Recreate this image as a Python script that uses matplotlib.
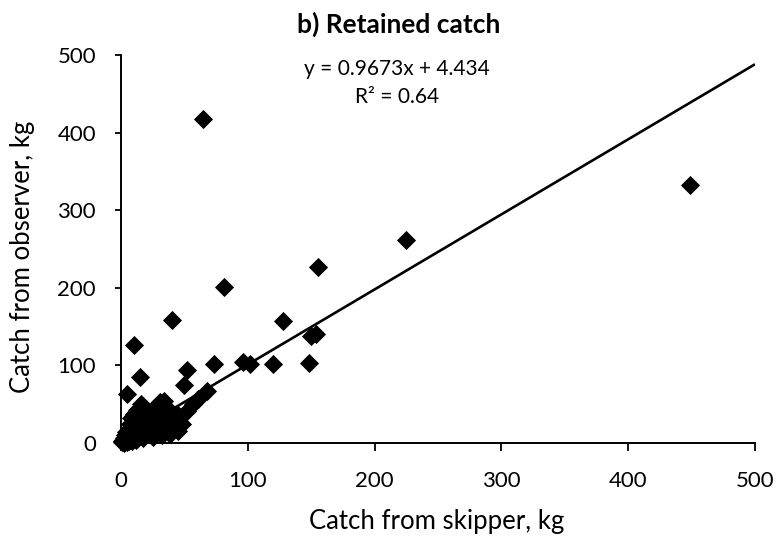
import matplotlib
matplotlib.use("Agg")
import matplotlib.pyplot as plt
import numpy as np

plt.rcParams['font.family'] = ['Lato', 'DejaVu Sans']

skipper = [449, 65, 225, 155, 81, 40, 128, 10, 154, 150, 148, 120, 102, 96, 73,
           15, 52, 50, 5, 68, 61, 57, 52, 44, 48, 41, 35, 31, 16, 30, 34,
           0.5, 1, 2, 2, 3, 3, 4, 4, 5, 5, 6, 6, 7, 7, 8, 8, 9, 9, 10, 10, 11,
           12, 12, 13, 14, 15, 15, 16, 17, 18, 18, 20, 20, 22, 23, 24, 25, 26,
           28, 29, 30, 32, 34, 36, 38, 39, 42, 44, 45]
observer = [332, 417, 261, 227, 201, 158, 157, 126, 141, 138, 103, 102, 102, 104, 102,
            85, 94, 75, 63, 67, 57, 50, 41, 37, 24, 18, 48, 53, 50, 52, 54,
            1, 3, 0.5, 6, 2, 10, 14, 4, 1, 8, 18, 3, 12, 25, 5, 32, 20, 2, 9, 38, 15,
            28, 4, 42, 22, 10, 35, 45, 6, 16, 30, 25, 44, 12, 20, 36, 8, 28,
            15, 42, 22, 10, 30, 45, 25, 12, 35, 28, 15]

slope = 0.9673
intercept = 4.434
r2 = 0.64
x_range = [0, 500]
ticks = [0, 100, 200, 300, 400, 500]

W, H = 777, 540
fig = plt.figure(figsize=(W / 100, H / 100), dpi=100)
ax = fig.add_axes([121 / W, 1 - 443 / H, 634 / W, 388 / H])

ax.scatter(skipper, observer, marker='D', s=95, color='black', zorder=3, clip_on=False, linewidths=0)
xs = np.array(x_range, dtype=float)
ax.plot(xs, slope * xs + intercept, color='black', lw=1.9, zorder=2, solid_capstyle='butt')

ax.set_xlim(0, 500)
ax.set_ylim(0, 500)
ax.set_xticks(ticks)
ax.set_yticks(ticks)
ax.tick_params(direction='out', width=1.3, labelsize=16)
ax.tick_params(axis='y', length=4, pad=14)
ax.tick_params(axis='x', length=6, pad=14)
for s in ['top', 'right']:
    ax.spines[s].set_visible(False)
for s in ['left', 'bottom']:
    ax.spines[s].set_linewidth(1.4)

ax.set_xlabel('Catch from skipper, kg', fontsize=18.5)
ax.set_ylabel('Catch from observer, kg', fontsize=18.5)
ax.xaxis.set_label_coords((437 - 121) / 634, (443 - 522) / 388)
ax.yaxis.set_label_coords((22 - 121) / 634, (443 - 257) / 388)
ax.xaxis.label.set_va('center')
ax.yaxis.label.set_va('center')

fig.text(399 / W, 1 - 33 / H, 'b) Retained catch', fontsize=19, fontweight='bold',
         ha='center', va='baseline')
fig.text(397 / W, 1 - 75 / H, f'y = {slope}x + {intercept}', fontsize=15,
         ha='center', va='baseline')
fig.text(397 / W, 1 - 103 / H, f'R² = {r2}', fontsize=15, ha='center', va='baseline')

fig.savefig('out.png', dpi=100)
